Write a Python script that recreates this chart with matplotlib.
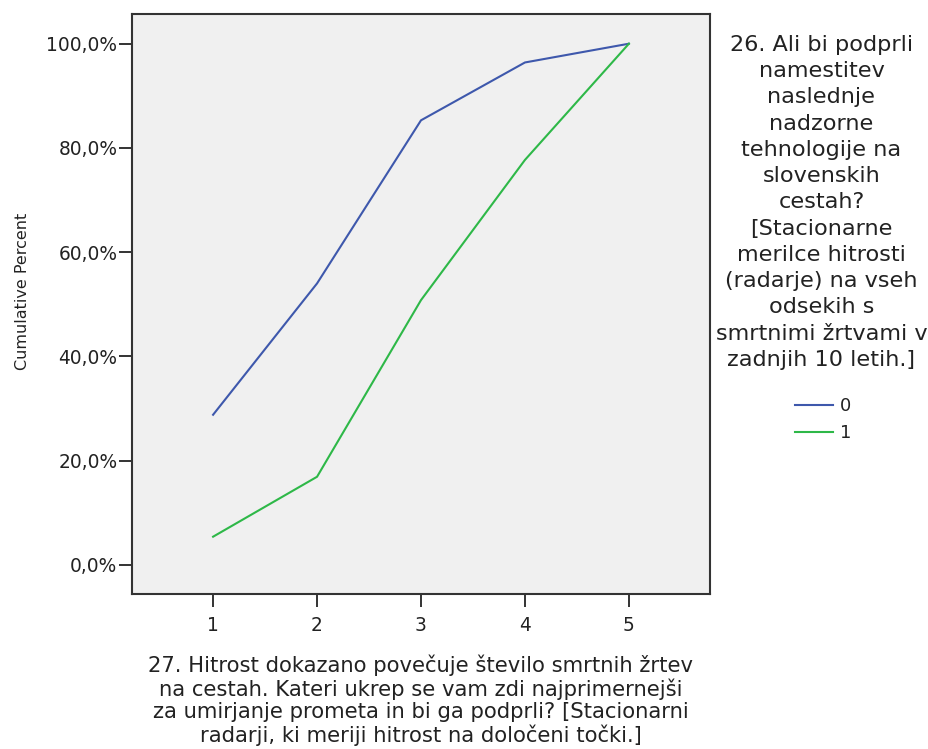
import matplotlib
matplotlib.use("Agg")
import matplotlib.pyplot as plt
from matplotlib.ticker import FuncFormatter

plt.rcParams['font.family'] = ['DejaVu Sans']

categories = [1, 2, 3, 4, 5]
series_labels = ['0', '1']
cum_0 = [28.8, 54.0, 85.3, 96.4, 100.0]
cum_1 = [5.4, 16.9, 50.8, 77.7, 100.0]
y_ticks = [0, 20, 40, 60, 80, 100]

legend_title = ("26. Ali bi podprli\nnamestitev\nnaslednje\nnadzorne\ntehnologije na\n"
                "slovenskih\ncestah?\n[Stacionarne\nmerilce hitrosti\n(radarje) na vseh\n"
                "odsekih s\nsmrtnimi žrtvami v\nzadnjih 10 letih.]")
x_title = ("27. Hitrost dokazano povečuje število smrtnih žrtev\n"
           "na cestah. Kateri ukrep se vam zdi najprimernejši\n"
           "za umirjanje prometa in bi ga podprli? [Stacionarni\n"
           "radarji, ki meriji hitrost na določeni točki.]")
y_title = "Cumulative Percent"

W, H = 929, 749
fig = plt.figure(figsize=(W / 100, H / 100), dpi=100)
fig.patch.set_facecolor('white')
ax = fig.add_axes([132 / W, 1 - 593.5 / H, 578 / W, 579.5 / H])
ax.set_facecolor('#F0F0F0')

l0, = ax.plot(categories, cum_0, color='#3E58AC', lw=1.5, label=series_labels[0])
l1, = ax.plot(categories, cum_1, color='#2EB848', lw=1.5, label=series_labels[1])

ax.set_xlim(0.22, 5.78)
ax.set_ylim(-5.5, 105.7)
ax.set_xticks(categories)
ax.set_yticks(y_ticks)
ax.yaxis.set_major_formatter(FuncFormatter(lambda v, p: f"{v:.1f}%".replace('.', ',')))
ax.tick_params(axis='both', length=9.5, width=1.4, color='#333333', labelcolor='#222222')
ax.tick_params(axis='y', labelsize=13.4, pad=1)
ax.tick_params(axis='x', labelsize=13.4, pad=7)
for s in ax.spines.values():
    s.set_color('#333333')
    s.set_linewidth(1.5)

ax.set_ylabel(y_title, fontsize=11.5, color='#222222')
ax.yaxis.set_label_coords((30 - 132) / 578, 1 - (291 - 14) / 579.5)

fig.text(421 / W, 1 - 654 / H, x_title, ha='center', va='top', fontsize=15.2,
         linespacing=1.15, color='#222222', multialignment='center')
fig.text(821.5 / W, 1 - 35 / H, legend_title, ha='center', va='top', fontsize=16.1,
         linespacing=1.39, color='#222222', multialignment='center')

leg = ax.legend(handles=[l0, l1], loc='upper left', bbox_to_anchor=(786 / W, 1 - 388 / H),
                bbox_transform=fig.transFigure, frameon=False, fontsize=13,
                handlelength=2.1, handletextpad=0.4, labelspacing=0.5, borderpad=0)
for t in leg.get_texts():
    t.set_color('#222222')

fig.savefig('out.png', dpi=100, facecolor='white')
